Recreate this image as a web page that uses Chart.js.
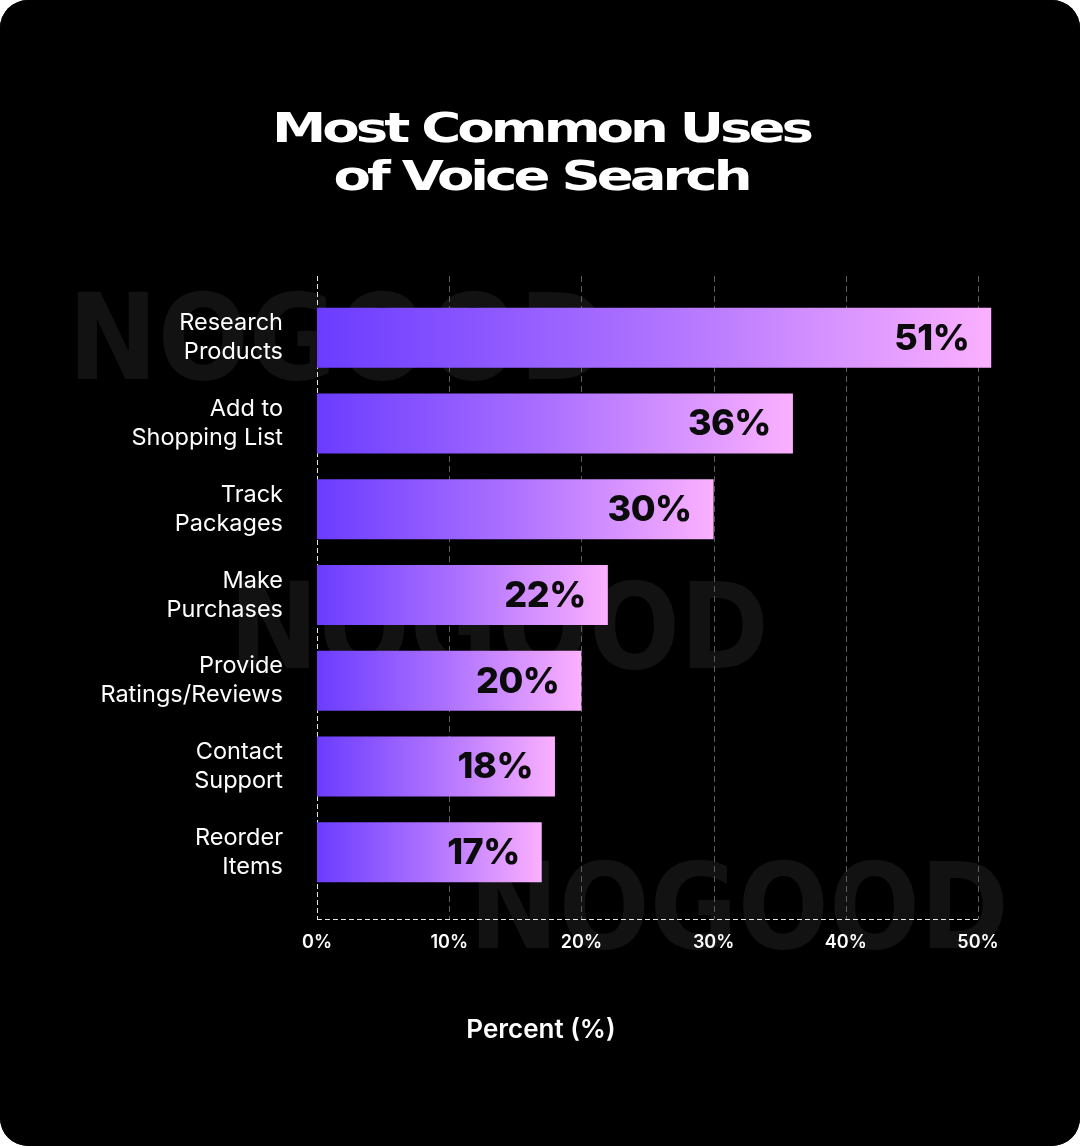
<!DOCTYPE html>
<html><head><meta charset="utf-8">
<script src="https://cdn.jsdelivr.net/npm/chart.js@4.4.1/dist/chart.umd.min.js"></script>
<style>
html,body{margin:0;padding:0;background:#fff;}
#card{width:1080px;height:1146px;background:#000;border-radius:28px;overflow:hidden;}
canvas{display:block;}
</style></head><body>
<div id="card"><canvas id="c" width="1080" height="1146"></canvas></div>
<script>
const categories = [["Research","Products"],["Add to","Shopping List"],["Track","Packages"],["Make","Purchases"],["Provide","Ratings/Reviews"],["Contact","Support"],["Reorder","Items"]];
const percentValues = [51, 36, 30, 22, 20, 18, 17];
const xTickValues = [0, 10, 20, 30, 40, 50];
const titleLines = ["Most Common Uses", "of Voice Search"];
const xAxisTitle = "Percent (%)";
const watermarkText = "NOGOOD";

const bgPlugin = {
  id: 'decor',
  beforeDraw(chart) {
    const ctx = chart.ctx;
    ctx.save();
    ctx.fillStyle = '#000';
    ctx.fillRect(0, 0, chart.width, chart.height);
    // watermarks
    ctx.fillStyle = '#121212';
    ctx.font = '700 119px "DejaVu Sans"';
    ctx.textBaseline = 'alphabetic';
    const w = ctx.measureText(watermarkText).width;
    [[68, 379], [229, 668], [469, 948]].forEach(([x, y]) => {
      ctx.save();
      ctx.translate(x, y);
      ctx.scale(540 / w, 1);
      ctx.fillText(watermarkText, 0, 0);
      ctx.restore();
    });
    // title
    ctx.fillStyle = '#fff';
    ctx.font = '700 41px "DejaVu Sans"';
    ctx.textAlign = 'center';
    try { ctx.letterSpacing = '-3px'; } catch (e) {}
    [[titleLines[0], 142], [titleLines[1], 190]].forEach(([t, y]) => {
      ctx.save();
      ctx.translate(541, y);
      ctx.scale(1.33, 1);
      ctx.fillText(t, 0, 0);
      ctx.restore();
    });
    ctx.restore();
  },
  beforeDatasetsDraw(chart) {
    const ctx = chart.ctx, a = chart.chartArea, xs = chart.scales.x;
    const top = a.top - 19, bottom = a.bottom + 24;
    ctx.save();
    ctx.lineWidth = 1;
    xTickValues.forEach((v, i) => {
      const x = Math.round(xs.getPixelForValue(v)) + 0.5;
      ctx.beginPath();
      if (i === 0) { ctx.strokeStyle = '#e6e6e6'; ctx.setLineDash([5, 3]); }
      else { ctx.strokeStyle = '#5c5c5c'; ctx.setLineDash([6, 4]); }
      ctx.moveTo(x, top); ctx.lineTo(x, bottom); ctx.stroke();
    });
    ctx.strokeStyle = '#e6e6e6'; ctx.setLineDash([5, 3]);
    ctx.beginPath();
    const yb = Math.round(bottom) + 0.5;
    ctx.moveTo(xs.getPixelForValue(xTickValues[0]), yb);
    ctx.lineTo(xs.getPixelForValue(xTickValues[xTickValues.length - 1]), yb);
    ctx.stroke();
    ctx.restore();
  },
  afterDatasetsDraw(chart) {
    const ctx = chart.ctx;
    const meta = chart.getDatasetMeta(0);
    ctx.save();
    ctx.fillStyle = '#0b0b0b';
    ctx.font = '800 36px Inter';
    try { ctx.letterSpacing = '-0.5px'; } catch (e) {}
    ctx.textAlign = 'right';
    ctx.textBaseline = 'middle';
    meta.data.forEach((bar, i) => {
      ctx.fillText(percentValues[i] + '%', bar.x - 22, bar.y + 1);
    });
    ctx.restore();
  },
  afterDraw(chart) {
    const ctx = chart.ctx;
    ctx.save();
    ctx.fillStyle = '#fff';
    ctx.font = '600 26px Inter';
    ctx.textAlign = 'center';
    ctx.textBaseline = 'middle';
    ctx.fillText(xAxisTitle, chart.width / 2 + 1, 1030);
    ctx.restore();
  }
};

function barGradient(c) {
  const chart = c.chart;
  if (!chart.chartArea) return '#8a55ff';
  const xs = chart.scales.x;
  const x0 = xs.getPixelForValue(0);
  const x1 = xs.getPixelForValue(percentValues[c.dataIndex]);
  const g = chart.ctx.createLinearGradient(x0, 0, x1, 0);
  g.addColorStop(0, '#6b3cff');
  g.addColorStop(0.5, '#ae72ff');
  g.addColorStop(1, '#fbb0ff');
  return g;
}

function build() {
  new Chart(document.getElementById('c'), {
    type: 'bar',
    data: {
      labels: categories,
      datasets: [{
        data: percentValues,
        backgroundColor: barGradient,
        borderWidth: 0,
        barPercentage: 0.7,
        categoryPercentage: 1.0,
        clip: false
      }]
    },
    options: {
      indexAxis: 'y',
      responsive: false,
      animation: false,
      devicePixelRatio: 1,
      layout: { padding: { top: 295, left: 20, right: 102, bottom: 191 } },
      plugins: {
        legend: { display: false },
        tooltip: { enabled: false },
        title: { display: false }
      },
      scales: {
        x: {
          type: 'linear', min: 0, max: 50, position: 'bottom',
          grid: { display: false, drawTicks: false }, border: { display: false },
          afterBuildTicks: s => { s.ticks = xTickValues.map(v => ({ value: v })); },
          afterFit: s => { s.height = 60; },
          ticks: {
            color: '#fff', padding: 37,
            font: { family: 'Inter', size: 18, weight: '600' },
            callback: v => v + '%'
          }
        },
        y: {
          type: 'category',
          grid: { display: false, drawTicks: false }, border: { display: false },
          afterFit: s => { s.width = 297; },
          ticks: {
            color: '#fff', padding: 34,
            font: { family: 'Inter', size: 23.5, weight: '400', lineHeight: 1.234 }
          }
        }
      }
    },
    plugins: [bgPlugin]
  });
}
Promise.all([
  document.fonts.load('400 22px Inter'), document.fonts.load('600 22px Inter'),
  document.fonts.load('800 33px Inter'), document.fonts.load('700 41px "DejaVu Sans"')
]).then(build, build);
</script>
</body></html>
